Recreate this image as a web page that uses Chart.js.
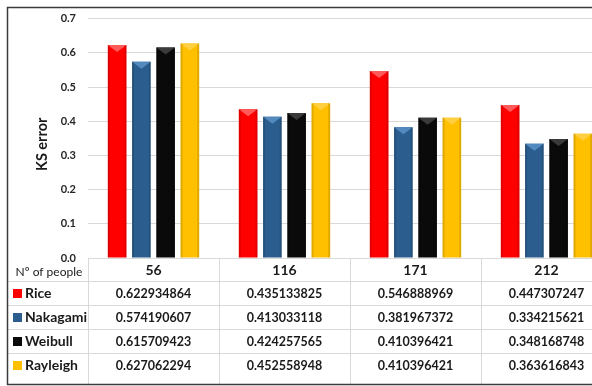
<!DOCTYPE html>
<html>
<head>
<meta charset="utf-8">
<script src="https://cdn.jsdelivr.net/npm/chart.js@4/dist/chart.umd.min.js"></script>
<style>
  html, body { margin: 0; padding: 0; background: #fff; overflow: hidden; }
  #wrap { position: relative; width: 620px; height: 386px; }
</style>
</head>
<body>
<div id="wrap"><canvas id="c" width="620" height="386"></canvas></div>
<script>
// Number of people in each test group
const groups = ['56', '116', '171', '212'];

// KS error for each fitted distribution
const rice     = [0.622934864, 0.435133825, 0.546888969, 0.447307247];
const nakagami = [0.574190607, 0.413033118, 0.381967372, 0.334215621];
const weibull  = [0.615709423, 0.424257565, 0.410396421, 0.348168748];
const rayleigh = [0.627062294, 0.452558948, 0.410396421, 0.363616843];

const seriesNames = ['Rice', 'Nakagami', 'Weibull', 'Rayleigh'];
const yTicks = [0, 0.1, 0.2, 0.3, 0.4, 0.5, 0.6, 0.7];
const yTitle = 'KS error';

const FONT = 'Lato, "Open Sans", sans-serif';
const colors = ['#FF0000', '#2B5E8E', '#0A0A0A', '#FFC000'];
const bevel  = ['#FF5A5A', '#5289BF', '#3A3A3A', '#FFCF40'];

// Lighter chevron on top of each bar
const bevelPlugin = {
  id: 'bevel',
  afterDatasetsDraw(chart) {
    const ctx = chart.ctx;
    chart.data.datasets.forEach((ds, di) => {
      const meta = chart.getDatasetMeta(di);
      meta.data.forEach(bar => {
        const w = bar.width, x = bar.x, y = bar.y;
        ctx.save();
        ctx.fillStyle = bevel[di];
        ctx.beginPath();
        ctx.moveTo(x - w / 2, y);
        ctx.lineTo(x + w / 2, y);
        ctx.lineTo(x, y + 7);
        ctx.closePath();
        ctx.fill();
        // darker side edges
        ctx.fillStyle = 'rgba(0,0,0,0.12)';
        ctx.fillRect(x - w / 2, y, 2, bar.base - y);
        ctx.fillRect(x + w / 2 - 2, y, 2, bar.base - y);
        ctx.restore();
      });
    });
  }
};

// Axis title, data table under the plot, and outer frame
const tablePlugin = {
  id: 'dataTable',
  afterDraw(chart) {
    const ctx = chart.ctx;
    const xs = chart.scales.x;
    const area = chart.chartArea;
    const step = xs.getPixelForValue(1) - xs.getPixelForValue(0);
    const top = area.bottom;
    const headH = 23;
    const rowH = 24;
    const bottom = 384;
    const series = [rice, nakagami, weibull, rayleigh];

    ctx.save();
    // y axis title
    ctx.save();
    ctx.translate(42, (area.top + area.bottom) / 2 + 6);
    ctx.rotate(-Math.PI / 2);
    ctx.fillStyle = '#1A1A1A';
    ctx.font = 'bold 14.5px ' + FONT;
    ctx.textAlign = 'center';
    ctx.textBaseline = 'middle';
    ctx.fillText(yTitle, 0, 0);
    ctx.restore();

    ctx.strokeStyle = '#D9D9D9';
    ctx.lineWidth = 1;
    // horizontal rules
    ctx.beginPath();
    ctx.moveTo(area.left, top + 0.5);
    ctx.lineTo(chart.width, top + 0.5);
    for (let r = 0; r < 4; r++) {
      const yy = Math.round(top + headH + r * rowH) + 0.5;
      ctx.moveTo(8, yy);
      ctx.lineTo(chart.width, yy);
    }
    // vertical rules
    for (let i = 0; i <= groups.length; i++) {
      const xx = Math.round(area.left + i * step) + 0.5;
      ctx.moveTo(xx, top);
      ctx.lineTo(xx, bottom);
    }
    ctx.stroke();

    // header row
    ctx.fillStyle = '#1A1A1A';
    ctx.textAlign = 'center';
    ctx.textBaseline = 'middle';
    ctx.font = 'bold 14px ' + FONT;
    groups.forEach((g, i) => {
      ctx.fillText(g, xs.getPixelForValue(i), top + headH / 2 + 1);
    });
    ctx.font = '12px ' + FONT;
    ctx.fillText('Nº of people', 49, top + headH / 2 + 3);

    // series rows
    series.forEach((vals, r) => {
      const cy = top + headH + r * rowH + rowH / 2 + 0.5;
      ctx.fillStyle = colors[r];
      ctx.fillRect(13, Math.round(cy - 4.5), 9, 9);
      ctx.fillStyle = '#1A1A1A';
      ctx.textAlign = 'left';
      ctx.font = 'bold 14px ' + FONT;
      ctx.fillText(seriesNames[r], 25, cy);
      ctx.textAlign = 'center';
      ctx.font = 'bold 12.5px ' + FONT;
      vals.forEach((v, i) => {
        ctx.fillText(String(v), xs.getPixelForValue(i), cy);
      });
    });

    // outer frame
    ctx.strokeStyle = '#3A3A3A';
    ctx.lineWidth = 1.5;
    ctx.beginPath();
    ctx.moveTo(chart.width, 7.5);
    ctx.lineTo(7.5, 7.5);
    ctx.lineTo(7.5, 384.5);
    ctx.lineTo(chart.width, 384.5);
    ctx.stroke();
    ctx.restore();
  }
};

new Chart(document.getElementById('c'), {
  type: 'bar',
  data: {
    labels: groups,
    datasets: [rice, nakagami, weibull, rayleigh].map((d, i) => ({
      label: seriesNames[i],
      data: d,
      backgroundColor: colors[i],
      borderWidth: 0,
      categoryPercentage: 0.74,
      barPercentage: 0.77
    }))
  },
  options: {
    responsive: false,
    animation: false,
    devicePixelRatio: 1,
    layout: { padding: { left: 8, top: 12, right: 8, bottom: 120 } },
    plugins: { legend: { display: false }, tooltip: { enabled: false } },
    scales: {
      x: {
        ticks: { display: false },
        grid: { display: false },
        border: { display: false }
      },
      y: {
        min: 0,
        max: 0.7,
        afterBuildTicks: s => { s.ticks = yTicks.map(v => ({ value: v })); },
        afterFit: s => { s.width = 80; },
        ticks: {
          padding: 12,
          color: '#262626',
          font: { family: FONT, size: 11, weight: 'bold' },
          callback: v => Number(v).toFixed(1)
        },
        grid: { color: '#D9D9D9', drawTicks: false },
        border: { display: false },
        title: { display: false }
      }
    }
  },
  plugins: [bevelPlugin, tablePlugin]
});
</script>
</body>
</html>
